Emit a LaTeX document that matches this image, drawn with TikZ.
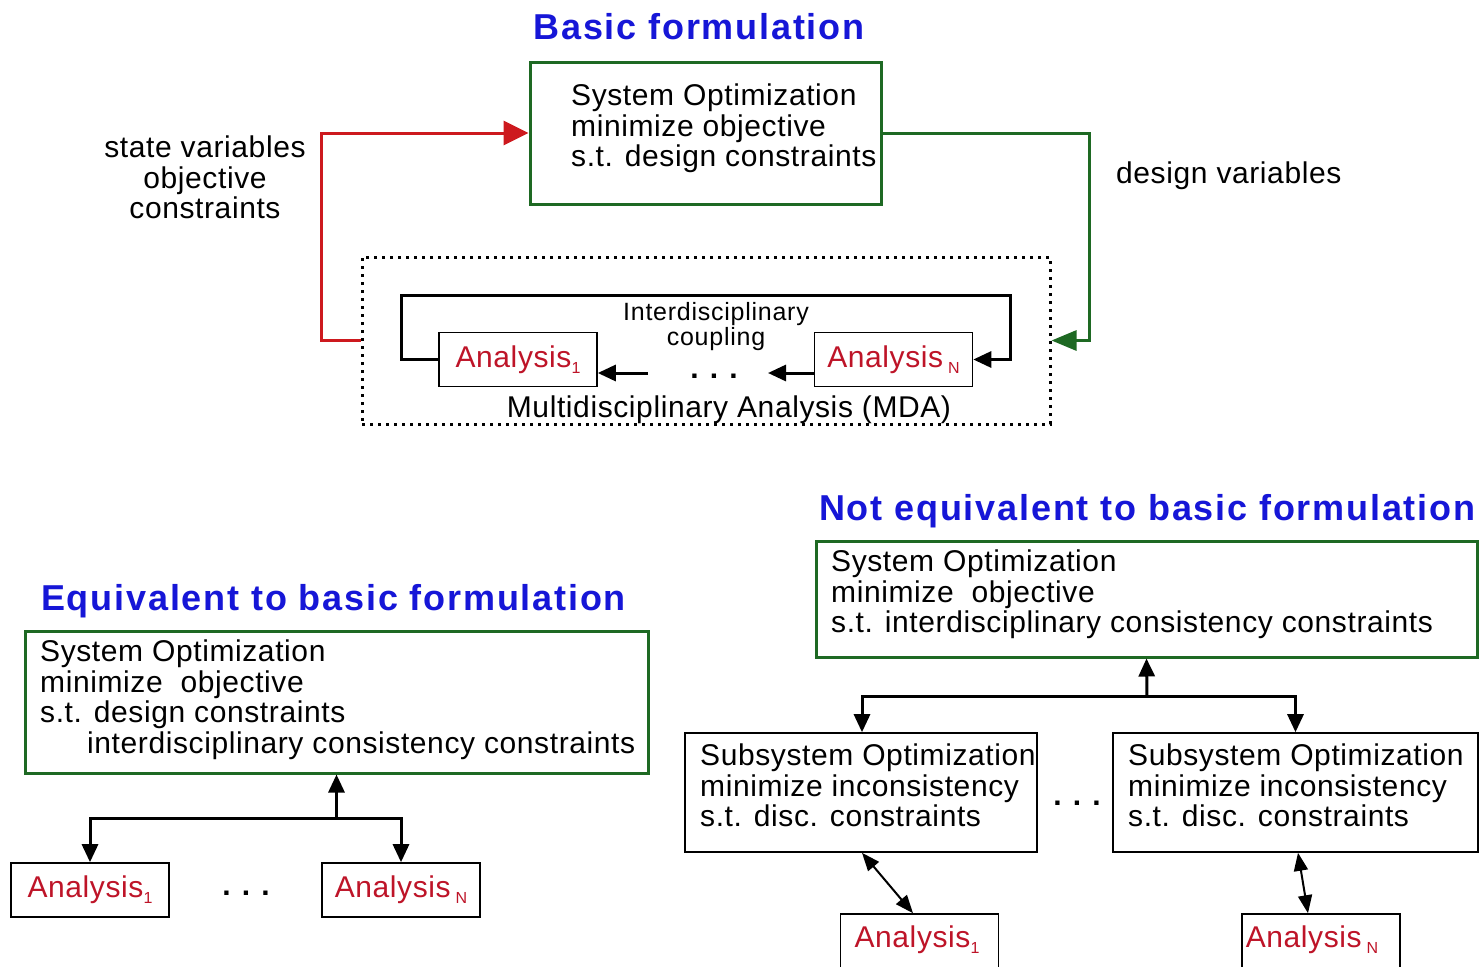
\documentclass[tikz,border=0pt]{standalone}
\usepackage{fontspec}
\setmainfont{Liberation Sans}
\newfontfamily\bodyfont{Liberation Sans}[LetterSpace=2]
\newfontfamily\couplefont{Liberation Sans}[LetterSpace=3]
\newfontfamily\titlefont{Liberation Sans Bold}[LetterSpace=5]
\usetikzlibrary{arrows.meta}
\definecolor{ttlblue}{RGB}{22,22,215}
\definecolor{boxgreen}{RGB}{30,105,35}
\definecolor{anared}{RGB}{190,20,40}
\definecolor{linkred}{RGB}{205,25,30}
\newcommand{\subone}{\raisebox{-6pt}{\fontsize{16}{16}\selectfont 1}}
\newcommand{\subN}{\,\raisebox{-6pt}{\fontsize{16}{16}\selectfont N}}
\tikzset{
  title/.style={font=\titlefont\fontsize{36}{36}\selectfont, text=ttlblue, inner sep=0pt},
  body/.style={font=\bodyfont\fontsize{30}{30.5}\selectfont, inner sep=0pt, align=left},
  small/.style={font=\couplefont\fontsize{25}{25.5}\selectfont, inner sep=0pt, align=center},
  optbox/.style={draw=boxgreen, line width=3pt, rectangle, inner sep=0pt},
  subbox/.style={draw=black, line width=1.6pt, rectangle, inner sep=0pt},
  anabox/.style={draw=black, line width=1.6pt, rectangle, inner sep=0pt,
    minimum width=158pt, minimum height=54pt,
    font=\bodyfont\fontsize{30}{30}\selectfont, text=anared},
  mdabox/.style={draw=black, line width=3pt, dash pattern=on 3pt off 5pt, rectangle, inner sep=0pt},
  redlink/.style={draw=linkred, line width=3pt, -{Triangle[length=25pt,width=24pt]}},
  greenlink/.style={draw=boxgreen, line width=3pt, -{Triangle[length=25pt,width=20pt]}},
  blink/.style={draw=black, line width=3pt, -{Triangle[length=18pt,width=16pt]}},
  dblink/.style={draw=black, line width=2pt, {Triangle[length=18pt,width=14pt]}-{Triangle[length=18pt,width=14pt]}},
  dotsnode/.style={font=\bfseries\fontsize{30}{30}\selectfont, inner sep=0pt}
}
\begin{document}
\begin{tikzpicture}[x=1pt,y=-1pt]
\useasboundingbox[fill=white] (0,0) rectangle (1484,967);

% ---------- basic formulation ----------
\node[title, anchor=base] (t1) at (699,39) {Basic formulation};
\node[optbox, minimum width=351pt, minimum height=142pt] (so) at (705.5,133) {};
\node[body, anchor=north west] (sotxt) at (571,84) {System Optimization\\minimize objective\\s.t. design constraints};

\node[body, align=center, anchor=north] (stv) at (205,136) {state variables\\objective\\constraints};
\node[body, anchor=base west] (dv) at (1116,183) {design variables};

\node[mdabox, minimum width=688pt, minimum height=167pt] (mda) at (706,340.5) {};
\node[anabox] (a1) at (518,359.5) {Analysis\subone};
\node[anabox] (aN) at (893.5,359.5) {Analysis\subN};
\node[small, anchor=north] (coup) at (716,302) {Interdisciplinary\\coupling};
\node[body, anchor=base] (mdatxt) at (729,417) {Multidisciplinary Analysis (MDA)};
\node[dotsnode, anchor=base] (d1) at (714,378) {. . .};

\coordinate (cpl) at (401,295);
\coordinate (cpr) at (1010,295);
\coordinate (m1) at (768,373);
\coordinate (m2) at (648,373);

\draw[redlink] (mda.west) -- ++(-39,0) |- (so.west);
\draw[greenlink] (so.east) -- ++(207,0) |- (mda.east);
\draw[blink] (a1.west) -| (cpl) -- (cpr) |- (aN.east);
\draw[blink] (aN.west |- m1) -- (m1);
\draw[blink] (m2) -- (a1.east |- m2);

% ---------- equivalent to basic formulation ----------
\node[title, anchor=base west] (t2) at (41,610) {Equivalent to basic formulation};
\node[optbox, minimum width=623pt, minimum height=142pt] (so2) at (336.5,702) {};
\node[body, anchor=north west] (so2txt) at (40,640) {System Optimization\\minimize\ \ objective\\s.t. design constraints\\\hspace*{47pt}interdisciplinary consistency constraints};
\node[anabox] (b1) at (90,890) {Analysis\subone};
\node[anabox] (b2) at (401,890) {Analysis\subN};
\node[dotsnode, anchor=base] (d2) at (246,895) {. . .};
\coordinate (j2) at (336.5,818);
\draw[blink] (j2) -- (so2.south);
\draw[blink] (j2) -| (b1.north);
\draw[blink] (j2) -| (b2.north);

% ---------- not equivalent to basic formulation ----------
\node[title, anchor=base west] (t3) at (819,520) {Not equivalent to basic formulation};
\node[optbox, minimum width=661pt, minimum height=116pt] (so3) at (1146.5,599) {};
\node[body, anchor=north west] (so3txt) at (831,550) {System Optimization\\minimize\ \ objective\\s.t. interdisciplinary consistency constraints};

\node[subbox, minimum width=352pt, minimum height=119pt] (ss1) at (861,792.5) {};
\node[body, anchor=north west] (ss1txt) at (700,744) {Subsystem Optimization\\minimize inconsistency\\s.t. disc. constraints};
\node[subbox, minimum width=365pt, minimum height=119pt] (ss2) at (1295.5,792.5) {};
\node[body, anchor=north west] (ss2txt) at (1128,744) {Subsystem Optimization\\minimize inconsistency\\s.t. disc. constraints};
\node[dotsnode, anchor=base] (d3) at (1077,805) {. . .};

\node[anabox, minimum height=56pt] (c1) at (919.5,942) {};
\node[body, text=anared, anchor=base] (c1txt) at (917,947) {Analysis\subone};
\node[anabox, minimum height=56pt] (c2) at (1321,942) {};
\node[body, text=anared, anchor=base] (c2txt) at (1312,947) {Analysis\subN};

\coordinate (j3) at (1147,696);
\draw[blink] (j3) -- (so3.south);
\draw[blink] (j3) -| ([xshift=1pt]ss1.south |- ss1.north);
\draw[blink] (j3) -| (ss2.north);
\draw[dblink] ([xshift=1pt]ss1.south) -- ([xshift=-6.5pt]c1.north);
\draw[dblink] ([xshift=2.5pt]ss2.south) -- ([xshift=-13pt]c2.north);
\end{tikzpicture}
\end{document}
